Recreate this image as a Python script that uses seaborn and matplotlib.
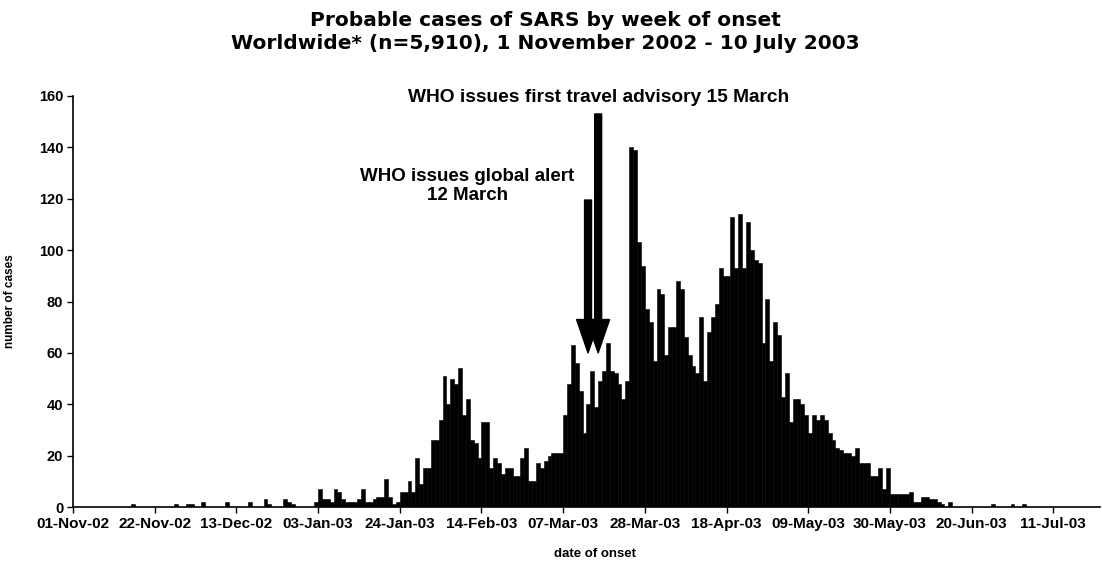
import numpy as np
import pandas as pd
import matplotlib
matplotlib.use("Agg")
import matplotlib.pyplot as plt
import seaborn as sns

# ---------------- data (daily probable SARS cases by date of onset) ----------------
start_date = "2002-11-01"
nov = [0, 0, 0, 0, 0, 0, 0, 0, 0, 0, 0, 0, 0, 0, 0, 1, 0, 0, 0, 0, 0, 0, 0, 0, 0, 0, 1, 0, 0, 1]
dec = [1, 0, 0, 2, 0, 0, 0, 0, 0, 2, 0, 0, 0, 0, 0, 2, 0, 0, 0, 3, 1, 0, 0, 0, 3, 2, 1, 0, 0, 0, 0]
jan = [0, 2, 7, 3, 3, 2, 7, 6, 3, 2, 2, 2, 3, 7, 2, 2, 3, 4, 4, 11, 4, 1, 2, 6, 6, 10, 6, 19, 9, 15, 15]
feb = [26, 26, 34, 51, 40, 50, 48, 54, 36, 42, 26, 25, 19, 33, 33, 15, 19, 17, 13, 15, 15, 12, 12, 19, 23, 10, 10, 17]
mar = [15, 18, 20, 21, 21, 21, 36, 48, 63, 56, 45, 29, 40, 53, 39, 49, 53, 64, 53, 52, 48, 42, 49, 140, 139,
       103, 94, 77, 72, 57, 85]
apr = [83, 59, 70, 70, 88, 85, 66, 59, 55, 52, 74, 49, 68, 74, 79, 93, 90, 90, 113, 93, 114, 93, 111, 100, 96,
       95, 64, 81, 57, 72]
may = [67, 43, 52, 33, 42, 42, 40, 36, 29, 36, 34, 36, 34, 29, 26, 23, 22, 21, 21, 20, 23, 17, 17, 17, 12,
       12, 15, 7, 15, 5, 5]
jun = [5, 5, 5, 6, 2, 2, 4, 4, 3, 3, 2, 1, 0, 2, 0, 0, 0, 0, 0, 0, 0, 0, 0, 0, 1, 0, 0, 0, 0, 1]
jul = [0, 0, 1, 0, 0, 0, 0, 0, 0, 0, 0, 0, 0, 0, 0, 0, 0, 0, 0, 0, 0, 0]

tick_labels = ["01-Nov-02", "22-Nov-02", "13-Dec-02", "03-Jan-03", "24-Jan-03", "14-Feb-03",
               "07-Mar-03", "28-Mar-03", "18-Apr-03", "09-May-03", "30-May-03", "20-Jun-03", "11-Jul-03"]
tick_days = [0, 21, 42, 63, 84, 105, 126, 147, 168, 189, 210, 231, 252]
y_ticks = [0, 20, 40, 60, 80, 100, 120, 140, 160]

alert_day = 131      # 12 March 2003
advisory_day = 134   # 15 March 2003

title = "Probable cases of SARS by week of onset\nWorldwide* (n=5,910), 1 November 2002 - 10 July 2003"
alert_text = "WHO issues global alert\n12 March"
advisory_text = "WHO issues first travel advisory 15 March"

# ---------------- build table ----------------
cases = nov + dec + jan + feb + mar + apr + may + jun + jul
df = pd.DataFrame({"day": np.arange(len(cases)), "cases": cases})

# ---------------- plotting ----------------
sns.set_style("ticks")
plt.rcParams["font.family"] = ["Liberation Sans", "DejaVu Sans"]
plt.rcParams["font.weight"] = "bold"
for key in ["text.color", "axes.labelcolor", "xtick.color", "ytick.color", "axes.edgecolor"]:
    plt.rcParams[key] = "black"

fig = plt.figure(figsize=(11.02, 5.67), dpi=100)
ax = fig.add_axes([0.0662, 0.1058, 0.932, 0.7249])

sns.barplot(data=df, x="day", y="cases", color="black", width=1.0, native_scale=True,
            errorbar=None, saturation=1, linewidth=0.4, edgecolor="black", ax=ax)

ax.set_xlim(-0.5, len(cases) - 0.5)
ax.set_ylim(0, 160)
ax.set_xticks(np.array(tick_days) - 0.5)
ax.set_xticklabels(tick_labels, fontsize=11, fontweight="bold")
ax.set_yticks(y_ticks)
ax.set_yticklabels([str(v) for v in y_ticks], fontsize=10.5, fontweight="bold")
ax.tick_params(axis="both", direction="out", length=4, width=1.0, colors="black", pad=3)

for s in ["top", "right"]:
    ax.spines[s].set_visible(False)
for s in ["left", "bottom"]:
    ax.spines[s].set_color("black")
    ax.spines[s].set_linewidth(1.2)

ax.set_xlabel("date of onset", fontsize=9.5, fontweight="bold")
ax.set_ylabel("number of cases", fontsize=8.5, fontweight="bold")
ax.xaxis.set_label_coords(0.508, -0.10)
ax.yaxis.set_label_coords(-0.0555, 0.5)

# arrows
ax.annotate("", xy=(alert_day + 0.9, 60), xytext=(alert_day + 0.9, 119.5),
            arrowprops=dict(facecolor="black", edgecolor="black", width=5, headwidth=16.5,
                            headlength=24, shrink=0), annotation_clip=False)
ax.annotate("", xy=(advisory_day + 0.5, 60), xytext=(advisory_day + 0.5, 153),
            arrowprops=dict(facecolor="black", edgecolor="black", width=5, headwidth=16.5,
                            headlength=24, shrink=0), annotation_clip=False)

ax.text(100.8, 125, alert_text, ha="center", va="center", fontsize=13.5,
        fontweight="bold", linespacing=1.15)
ax.text(134.7, 159.5, advisory_text, ha="center", va="center", fontsize=13.8,
        fontweight="bold", clip_on=False)

fig.text(0.4946, 0.944, title, ha="center", va="center", fontsize=14.5,
         fontweight="bold", linespacing=1.25, family=["DejaVu Sans"])

fig.savefig("out.png", dpi=100)
